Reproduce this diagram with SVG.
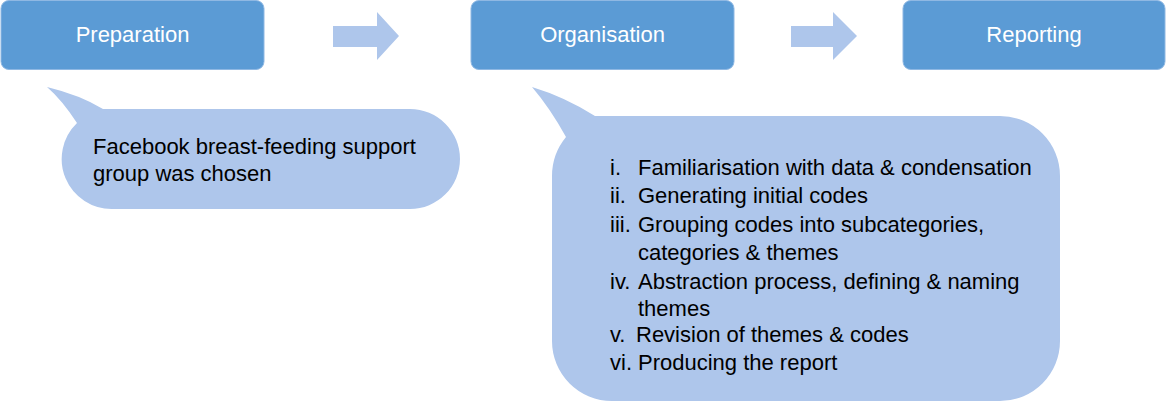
<svg xmlns="http://www.w3.org/2000/svg" width="1167" height="404" viewBox="0 0 1167 404">
<style>
.box{fill:#5b9bd5;stroke:#8fb8e3;stroke-width:1}
.bt{font-family:"Liberation Sans",Arial,sans-serif;font-size:22px;fill:#ffffff;text-anchor:middle}
.arr{fill:#aec6eb}
.bub{fill:#aec6eb}
.t{font-family:"Liberation Sans",Arial,sans-serif;font-size:22px;fill:#000000}
</style>
<rect width="1167" height="404" fill="#ffffff"/>
<g id="preparation">
<rect class="box" x="1" y="0.5" width="263" height="69" rx="8"/>
<text class="bt" x="132.5" y="42">Preparation</text>
</g>
<g id="organisation">
<rect class="box" x="471" y="0.5" width="263" height="69" rx="8"/>
<text class="bt" x="602.5" y="42">Organisation</text>
</g>
<g id="reporting">
<rect class="box" x="903" y="0.5" width="262" height="69" rx="8"/>
<text class="bt" x="1034" y="42">Reporting</text>
</g>
<g id="connectors">
<path class="arr" d="M333,26 H377 V12 L399,36 L377,60 V47 H333 Z"/>
<path class="arr" d="M791,26 H833 V12 L857,36 L833,60 V47 H791 Z"/>
</g>
<g id="callout-preparation">
<path class="bub" d="M47,87 Q80,95 103,109 H410 A50,50 0 0 1 410,209 H113 A50,50 0 0 1 77,123 Q62,100 47,87 Z"/>
<text class="t" x="93" y="154">Facebook breast-feeding support</text>
<text class="t" x="93" y="181">group was chosen</text>
</g>
<g id="callout-organisation">
<path class="bub" d="M532,87 Q565,97 595,116 H1000 A60,60 0 0 1 1060,176 V341 A60,60 0 0 1 1000,401 H612 A60,60 0 0 1 552,341 V176 Q552,154 566,137 Q550,108 532,87 Z"/>
<g class="t">
<text x="610" y="175">i.</text><text x="638" y="175">Familiarisation with data &amp; condensation</text>
<text x="610" y="203">ii.</text><text x="638" y="203">Generating initial codes</text>
<text x="610" y="232">iii.</text><text x="638" y="232">Grouping codes into subcategories,</text>
<text x="638" y="260">categories &amp; themes</text>
<text x="610" y="289">iv.</text><text x="638" y="289">Abstraction process, defining &amp; naming</text>
<text x="638" y="316">themes</text>
<text x="610" y="342">v.</text><text x="636" y="342">Revision of themes &amp; codes</text>
<text x="610" y="370">vi.</text><text x="638" y="370">Producing the report</text>
</g>
</g>
</svg>
